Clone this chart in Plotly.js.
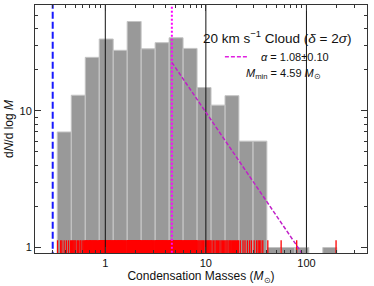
<!DOCTYPE html>
<html><head><meta charset="utf-8">
<script src="https://cdn.plot.ly/plotly-3.0.1.min.js"></script>
<style>html,body{margin:0;padding:0;background:#fff}#chart{width:374px;height:286px}</style>
</head><body><div id="chart"></div>
<script>
// histogram bin edges (Msun) and dN/dlogM heights
const binEdges = [0.333,0.459,0.632,0.870,1.198,1.650,2.272,3.13,4.31,5.93,8.17,11.25,15.5,21.3,29.4,40.4,55.7,76.7,105.6,145.4,200];
const binHeights = [7,13,24.6,33.5,27.7,45,28.4,31.5,34.2,28.6,14.8,11,12.9,6,6,1,1,1,0,1];
// individual condensation masses (rug)
const masses = [
0.335,0.36,0.37,0.39,0.41,0.43,0.45,
0.46,0.47,0.48,0.49,0.50,0.51,0.53,0.54,0.56,0.57,0.59,0.61,0.62,
0.635,0.64,0.65,0.655,0.66,0.67,0.68,0.69,0.70,0.705,0.71,0.72,0.73,0.74,0.75,0.76,0.77,0.78,0.79,0.80,0.81,0.82,0.835,0.85,0.86,
0.875,0.88,0.89,0.895,0.90,0.91,0.92,0.925,0.93,0.94,0.95,0.96,0.965,0.97,0.98,0.99,1.0,1.01,1.02,1.03,1.04,1.05,1.06,1.07,1.08,1.09,1.10,1.11,1.12,1.13,1.15,1.16,1.18,1.19,
1.20,1.22,1.23,1.24,1.26,1.27,1.28,1.30,1.31,1.33,1.34,1.35,1.37,1.38,1.40,1.41,1.43,1.44,1.46,1.47,1.49,1.51,1.53,1.55,1.57,1.59,1.61,1.64,
1.66,1.67,1.68,1.69,1.70,1.71,1.72,1.73,1.75,1.76,1.77,1.78,1.80,1.81,1.82,1.83,1.85,1.86,1.87,1.89,1.90,1.91,1.93,1.94,1.95,1.97,1.98,2.00,2.01,2.03,2.04,2.06,2.07,2.09,2.10,2.12,2.13,2.15,2.16,2.18,2.19,2.21,2.23,2.24,2.26,
2.29,2.32,2.34,2.37,2.40,2.42,2.45,2.47,2.50,2.52,2.55,2.58,2.61,2.63,2.66,2.69,2.72,2.75,2.78,2.81,2.84,2.87,2.90,2.93,2.97,3.01,3.05,3.10,
3.15,3.18,3.21,3.24,3.27,3.30,3.33,3.36,3.39,3.42,3.45,3.48,3.51,3.55,3.58,3.62,3.65,3.69,3.72,3.76,3.80,3.84,3.88,3.92,3.96,4.00,4.04,4.08,4.13,4.18,4.23,4.28,
4.33,4.37,4.41,4.45,4.49,4.53,4.57,4.61,4.65,4.69,4.73,4.77,4.82,4.86,4.90,4.95,4.99,5.04,5.08,5.13,5.18,5.22,5.27,5.32,5.37,5.42,5.47,5.52,5.57,5.63,5.68,5.74,5.80,5.88,
5.98,6.05,6.12,6.19,6.26,6.33,6.40,6.48,6.55,6.63,6.70,6.78,6.86,6.94,7.02,7.10,7.18,7.26,7.35,7.43,7.52,7.60,7.69,7.78,7.87,7.95,8.02,8.08,8.14,
8.3,8.5,8.7,8.9,9.1,9.3,9.5,9.8,10.0,10.2,10.4,10.6,10.8,11.0,11.2,
11.5,11.9,12.3,12.7,13.0,13.4,13.8,14.2,14.6,15.0,15.4,
15.8,16.2,16.6,17.1,17.5,17.9,18.4,18.8,19.3,19.7,20.2,20.7,21.1,
22.0,23.4,24.5,25.9,27.2,28.4,
30.2,31.9,33.1,34.0,35.2,36.8,
41.3,56,80,197];
const completenessLimit = 0.3;
const mMin = 4.59;
const alpha = 1.08, alphaErr = 0.10;
const fitX = [4.59, 91];
const fitY = [22.6, 0.9];
const refLines = [1, 10, 100];
const xTickVals = [1, 10, 100], xTickText = ['1', '10', '100'];
const yTickVals = [1, 10], yTickText = ['1', '10'];
const xMinorVals = [0.2,0.3,0.4,0.5,0.6,0.7,0.8,0.9,2,3,4,5,6,7,8,9,20,30,40,50,60,70,80,90,200,300,400];
const yMinorVals = [2,3,4,5,6,7,8,9,20,30,40,50];

const YLO = 0.5, YHI = 100, RUGTOP = 1.13;

// bars as filled rectangles built from bin edges/heights
const bx = [], by = [];
for (let i = 0; i < binHeights.length; i++) {
  const h = binHeights[i];
  if (!(h > 0)) continue;
  bx.push(binEdges[i], binEdges[i], binEdges[i+1], binEdges[i+1], binEdges[i], null);
  by.push(YLO, h, h, YLO, YLO, null);
}
const rx = [], ry = [];
masses.forEach(m => { rx.push(m, m, null); ry.push(YLO, RUGTOP, null); });
const vx = [], vy = [];
refLines.forEach(v => { vx.push(v, v, null); vy.push(YLO, YHI, null); });

const traces = [
  {x: bx, y: by, mode: 'lines', fill: 'toself', fillcolor: '#999999',
   line: {color: '#c4c4c4', width: 1}, hoverinfo: 'skip'},
  {x: rx, y: ry, mode: 'lines', line: {color: '#ff0000', width: 1.3}, hoverinfo: 'skip'},
  {x: vx, y: vy, mode: 'lines', line: {color: '#111111', width: 1}, hoverinfo: 'skip'},
  {x: [completenessLimit, completenessLimit], y: [YLO, YHI], mode: 'lines',
   line: {color: '#1a1aff', width: 2, dash: '7px,3px'}},
  {x: [mMin, mMin], y: [YLO, YHI], mode: 'lines',
   line: {color: '#ff00ff', width: 2, dash: '2px,2px'}},
  {x: fitX, y: fitY, mode: 'lines', line: {color: '#c020c8', width: 1.5, dash: '4px,2px'}}
];

const fnt = {family: 'Liberation Sans, Arial, sans-serif', color: '#111', size: 11};
const tfnt = Object.assign({}, fnt, {size: 12});
const axBase = {type: 'log', showgrid: false, zeroline: false, showline: true,
  linecolor: '#333', linewidth: 1, mirror: 'ticks', ticks: 'inside', ticklen: 6,
  tickcolor: '#333', tickwidth: 1, tickfont: fnt, tickmode: 'array'};

const layout = {
  width: 374, height: 286,
  margin: {l: 35, r: 7, t: 5, b: 33},
  paper_bgcolor: '#fff', plot_bgcolor: '#fff',
  showlegend: false, font: fnt,
  xaxis: Object.assign({}, axBase, {
    range: [Math.log10(0.2), Math.log10(400)],
    tickvals: xTickVals, ticktext: xTickText,
    minor: {ticks: 'inside', ticklen: 3, tickcolor: '#333', tickmode: 'array', tickvals: xMinorVals},
    title: {text: 'Condensation Masses (<i>M</i><sub>⊙</sub>)', font: tfnt, standoff: 3}
  }),
  yaxis: Object.assign({}, axBase, {
    range: [Math.log10(0.912), Math.log10(59.4)],
    tickvals: yTickVals, ticktext: yTickText,
    minor: {ticks: 'inside', ticklen: 3, tickcolor: '#333', tickmode: 'array', tickvals: yMinorVals},
    title: {text: 'd<i>N</i>/d log <i>M</i>', font: tfnt, standoff: 3}
  }),
  annotations: [
    {xref: 'paper', yref: 'paper', x: 0.729, y: 0.871, xanchor: 'center', yanchor: 'middle', showarrow: false,
     text: '20 km s<sup>−1</sup> Cloud (<i>δ</i> = 2<i>σ</i>)', font: Object.assign({}, fnt, {size: 13.5})},
    {xref: 'paper', yref: 'paper', x: 0.675, y: 0.7915, xanchor: 'left', yanchor: 'middle', showarrow: false,
     text: '<i>α</i> = ' + alpha.toFixed(2) + '±' + alphaErr.toFixed(2), font: fnt},
    {xref: 'paper', yref: 'paper', x: 0.747, y: 0.722, xanchor: 'center', yanchor: 'middle', showarrow: false,
     text: '<i>M</i><sub>min</sub> = ' + mMin.toFixed(2) + ' <i>M</i><sub>⊙</sub>', font: fnt}
  ],
  shapes: [
    {type: 'line', xref: 'paper', yref: 'paper', x0: 0.572, x1: 0.6416, y0: 0.7915, y1: 0.7915,
     line: {color: '#e020e0', width: 1.5, dash: '4px,2px'}}
  ]
};

Plotly.newPlot('chart', traces, layout, {staticPlot: true, displayModeBar: false});
</script></body></html>
